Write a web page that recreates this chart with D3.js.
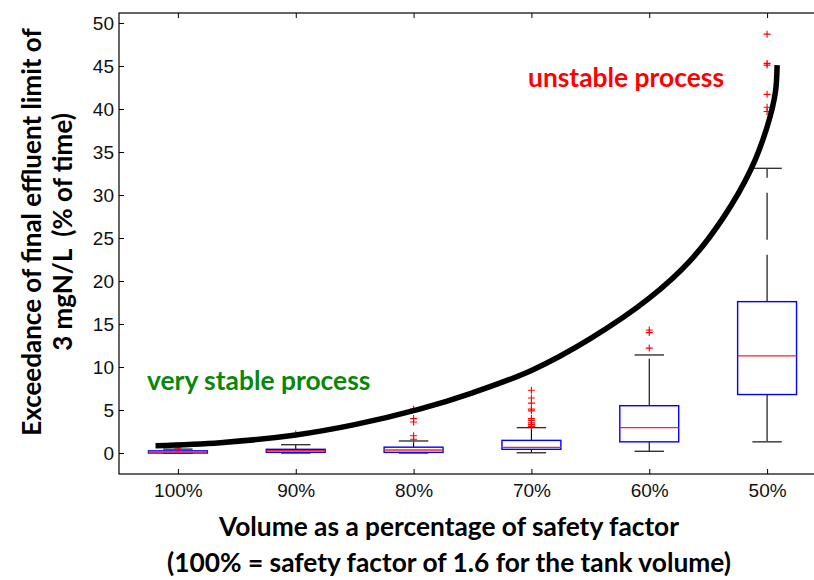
<!DOCTYPE html>
<html>
<head>
<meta charset="utf-8">
<script src="https://cdn.jsdelivr.net/npm/d3@7"></script>
<style>
  html, body { margin: 0; padding: 0; background: #fff; }
  svg { display: block; }
</style>
</head>
<body>
<svg id="chart" width="814" height="580"></svg>
<script>
// ---- data ----
const categories = ["100%", "90%", "80%", "70%", "60%", "50%"];
const whiskerLow  = [0.0, 0.0, 0.0, 0.03, 0.2, 1.3];
const q1          = [0.0, 0.08, 0.08, 0.43, 1.3, 6.8];
const medians     = [0.1, 0.27, 0.35, 0.66, 2.95, 11.3];
const q3          = [0.25, 0.43, 0.68, 1.47, 5.5, 17.6];
const whiskerHigh = [0.45, 0.97, 1.4, 2.95, 11.4, 33.1];
const outliers = [
  [0.55, 0.7],
  [2.2],
  [1.6, 2.0, 3.6, 4.0, 5.1],
  [3.1, 3.3, 3.5, 3.8, 4.0, 4.9, 5.1, 5.8, 6.4, 7.3],
  [12.2, 14.0, 14.3],
  [39.7, 40.2, 41.7, 45.1, 45.3, 48.7]
];
const yTicks = [0, 5, 10, 15, 20, 25, 30, 35, 40, 45, 50];
// hand-drawn trend curve (x in category units, y in % of time)
const curveX = [0.81, 1.36, 2.0, 2.5, 3.05, 3.5, 4.0, 4.5, 5.0, 5.35, 5.63, 5.86, 6.0, 6.07, 6.085];
const curveY = [0.85, 1.2, 2.1, 3.3, 5.1, 7.0, 9.6, 13.3, 18.0, 22.4, 27.4, 32.9, 37.9, 41.9, 45.1];

// ---- layout ----
const svg = d3.select("#chart");
const pLeft = 119, pRight = 826, pTop = 13, pBottom = 474;
const x = d3.scaleLinear().domain([0.5, 6.5]).range([pLeft, pRight]);
const y = d3.scaleLinear().domain([-2.44, 51.16]).range([pBottom, pTop]);
const tickFont = "'Liberation Sans', Arial, sans-serif";
const titleFont = "Lato, 'Open Sans', sans-serif";

// frame
svg.append("rect").attr("x", pLeft).attr("y", pTop)
  .attr("width", pRight - pLeft).attr("height", pBottom - pTop)
  .attr("fill", "none").attr("stroke", "#000").attr("stroke-width", 1.2);

// axes
const yAxis = d3.axisLeft(y).tickValues(yTicks).tickSizeInner(-5).tickSizeOuter(0).tickPadding(5);
const gy = svg.append("g").attr("transform", `translate(${pLeft},0)`).call(yAxis);
const xAxis = d3.axisBottom(x).tickValues([1,2,3,4,5,6]).tickFormat(d => categories[d-1])
  .tickSizeInner(-5).tickSizeOuter(0).tickPadding(10);
const gx = svg.append("g").attr("transform", `translate(0,${pBottom})`).call(xAxis);
const xTop = d3.axisTop(x).tickValues([1,2,3,4,5,6]).tickFormat("").tickSizeInner(-5).tickSizeOuter(0);
const gt = svg.append("g").attr("transform", `translate(0,${pTop})`).call(xTop);
[gy, gx, gt].forEach(g => {
  g.select(".domain").remove();
  g.selectAll("line").attr("stroke", "#000");
  g.selectAll("text").attr("font-family", tickFont).attr("font-size", 19).attr("fill", "#111");
});

// boxes
const hw = 0.25, cw = 0.125;
const boxes = svg.append("g");
categories.forEach((c, i) => {
  const cx = i + 1;
  const g = boxes.append("g");
  g.append("line").attr("x1", x(cx)).attr("x2", x(cx)).attr("y1", y(q3[i])).attr("y2", y(whiskerHigh[i]))
    .attr("stroke", "#000").attr("stroke-width", 1.1).attr("stroke-dasharray", "47 15");
  g.append("line").attr("x1", x(cx)).attr("x2", x(cx)).attr("y1", y(q1[i])).attr("y2", y(whiskerLow[i]))
    .attr("stroke", "#000").attr("stroke-width", 1.1).attr("stroke-dasharray", "47 15");
  [whiskerHigh[i], whiskerLow[i]].forEach(v => {
    g.append("line").attr("x1", x(cx - cw)).attr("x2", x(cx + cw)).attr("y1", y(v)).attr("y2", y(v))
      .attr("stroke", "#333").attr("stroke-width", 1.4);
  });
  g.append("rect").attr("x", x(cx - hw)).attr("width", x(cx + hw) - x(cx - hw))
    .attr("y", y(q3[i])).attr("height", Math.max(y(q1[i]) - y(q3[i]), 1.5))
    .attr("fill", "#fff").attr("stroke", "#0000ff").attr("stroke-width", 1.4);
  g.append("line").attr("x1", x(cx - hw)).attr("x2", x(cx + hw)).attr("y1", y(medians[i])).attr("y2", y(medians[i]))
    .attr("stroke", "#ff2020").attr("stroke-width", 1.4);
  outliers[i].forEach(v => {
    g.append("path").attr("transform", `translate(${x(cx)},${y(v)})`)
      .attr("d", "M-3.5,0H3.5M0,-3.5V3.5").attr("stroke", "#ff0000").attr("stroke-width", 1.1).attr("fill", "none");
  });
});

// trend curve
const pts = curveX.map((d, i) => [d, curveY[i]]);
const line = d3.line().x(d => x(d[0])).y(d => y(d[1])).curve(d3.curveCatmullRom.alpha(0.5));
svg.append("path").attr("d", line(pts)).attr("fill", "none")
  .attr("stroke", "#000").attr("stroke-width", 5.5).attr("stroke-linecap", "butt");

// annotations
svg.append("text").attr("x", 147).attr("y", 390).text("very stable process")
  .attr("font-family", titleFont).attr("font-weight", "bold").attr("font-size", 26.4).attr("fill", "#0a870a");
svg.append("text").attr("x", 528).attr("y", 87).text("unstable process")
  .attr("font-family", titleFont).attr("font-weight", "bold").attr("font-size", 26.4).attr("fill", "#ff0000");

// axis titles
const xt = svg.append("text").attr("text-anchor", "middle")
  .attr("font-family", titleFont).attr("font-weight", "bold").attr("font-size", 26.3).attr("fill", "#000");
xt.append("tspan").attr("x", 449).attr("y", 536).text("Volume as a percentage of safety factor");
xt.append("tspan").attr("x", 449).attr("y", 572).text("(100% = safety factor of 1.6 for the tank volume)");

const yt = svg.append("g").attr("transform", "translate(0,232)");
[["Exceedance of final effluent limit of", 32], ["3 mgN/L  (% of time)", 63]].forEach(([t, cx]) => {
  yt.append("text").attr("transform", `translate(${cx},0) rotate(-90)`).attr("dy", "0.35em")
    .attr("text-anchor", "middle").attr("xml:space", "preserve")
    .attr("font-family", titleFont).attr("font-weight", "bold").attr("font-size", 26).attr("fill", "#000")
    .text(t);
});
</script>
</body>
</html>
